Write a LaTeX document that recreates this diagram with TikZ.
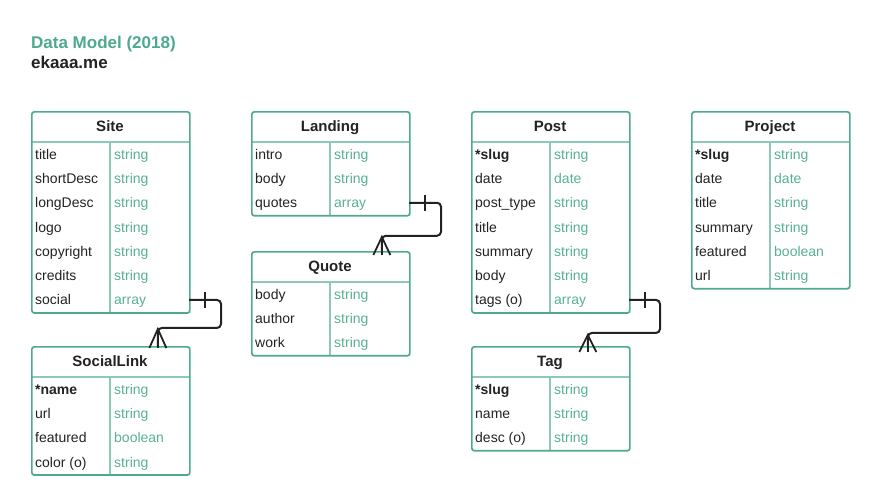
\documentclass[tikz,border=0pt]{standalone}
\usepackage{fontspec}
\setmainfont{Liberation Sans}
\usetikzlibrary{calc}
\definecolor{teal1}{HTML}{4DAA8F}
\definecolor{teallt}{HTML}{8CCAB7}
\definecolor{typec}{HTML}{58B096}
\definecolor{ink}{HTML}{222222}
\tikzset{
  tblbox/.style={draw=teal1, line width=1.7pt, rounded corners=2.5pt, minimum width=158pt, inner sep=0pt},
  tblhead/.style={font=\fontsize{15}{17}\selectfont\bfseries, text=ink, inner sep=0pt, anchor=base},
  keytext/.style={font=\fontsize{14}{16}\selectfont, text=ink, anchor=base west, inner sep=0pt},
  typetext/.style={font=\fontsize{14}{16}\selectfont, text=typec, anchor=base west, inner sep=0pt},
  sepline/.style={draw=teallt, line width=1.2pt},
  divline/.style={draw=teallt, line width=1.4pt},
  rel/.style={draw=ink, line width=2pt, rounded corners=4pt},
  relmark/.style={draw=ink, line width=1.8pt},
  titletext/.style={font=\fontsize{17}{20}\selectfont\bfseries, anchor=base west, inner sep=0pt}
}
\newcommand\ertable[6]{%
  \pgfmathsetmacro\ertH{31+24.3*#5}%
  \draw[divline] (#2+79,#3+31) -- (#2+79,#3+\ertH);
  \draw[sepline] (#2,#3+31) -- (#2+158,#3+31);
  \node[tblbox, minimum height=\ertH pt, anchor=north west] (#1) at (#2,#3) {};
  \node[tblhead] (#1-h) at (#2+79,#3+20.5) {#4};
  \foreach [count=\i] \k/\t in {#6} {
    \pgfmathsetmacro\ry{#3+31+24.3*\i-12.15}
    \node[keytext] (#1-k\i) at (#2+4,\ry+5) {\k};
    \node[typetext] (#1-t\i) at (#2+83,\ry+5) {\t};
    \coordinate (#1-r\i) at (#2+158,\ry);
  }
}
\begin{document}
\begin{tikzpicture}[x=1pt,y=-1pt]
\useasboundingbox (0,0) rectangle (880,501);
\node[titletext, text=teal1] (title) at (31,48) {Data Model (2018)};
\node[titletext, text=ink] (sub) at (31,68) {ekaaa.me};

\ertable{site}{31}{111}{Site}{7}{title/string,shortDesc/string,longDesc/string,logo/string,copyright/string,credits/string,social/array}
\ertable{landing}{251}{111}{Landing}{3}{intro/string,body/string,quotes/array}
\ertable{post}{471}{111}{Post}{7}{\textbf{*slug}/string,date/date,post\_type/string,title/string,summary/string,body/string,tags (o)/array}
\ertable{project}{691}{111}{Project}{6}{\textbf{*slug}/string,date/date,title/string,summary/string,featured/boolean,url/string}
\ertable{quote}{251}{251}{Quote}{3}{body/string,author/string,work/string}
\ertable{sociallink}{31}{346}{SocialLink}{4}{\textbf{*name}/string,url/string,featured/boolean,color (o)/string}
\ertable{tag}{471}{346}{Tag}{3}{\textbf{*slug}/string,name/string,desc (o)/string}

% Site -> SocialLink
\coordinate (f1) at ([xshift=47pt]sociallink.north);
\draw[rel] (site-r7) -- ++(32,0) -- ++(0,28) -| (f1);
\draw[relmark] ([xshift=16pt,yshift=8pt]site-r7) -- ([xshift=16pt,yshift=-8pt]site-r7);
\draw[relmark] ([xshift=-8.5pt,yshift=-2pt]f1) -- ([yshift=17pt]f1) -- ([xshift=8.5pt,yshift=-2pt]f1);
\draw[relmark] ([yshift=17pt]f1) -- ([yshift=-2pt]f1);

% Landing -> Quote
\coordinate (f2) at ([xshift=51pt]quote.north);
\draw[rel] (landing-r3) -- ++(32,0) -- ++(0,33) -| (f2);
\draw[relmark] ([xshift=16pt,yshift=8pt]landing-r3) -- ([xshift=16pt,yshift=-8pt]landing-r3);
\draw[relmark] ([xshift=-8.5pt,yshift=-4pt]f2) -- ([yshift=14pt]f2) -- ([xshift=8.5pt,yshift=-4pt]f2);
\draw[relmark] ([yshift=14pt]f2) -- ([yshift=-4pt]f2);

% Post -> Tag
\coordinate (f3) at ([xshift=37pt]tag.north);
\draw[rel] (post-r7) -- ++(31,0) -- ++(0,33) -| (f3);
\draw[relmark] ([xshift=16pt,yshift=8pt]post-r7) -- ([xshift=16pt,yshift=-8pt]post-r7);
\draw[relmark] ([xshift=-8.5pt,yshift=-6pt]f3) -- ([yshift=11pt]f3) -- ([xshift=8.5pt,yshift=-6pt]f3);
\draw[relmark] ([yshift=11pt]f3) -- ([yshift=-6pt]f3);
\end{tikzpicture}
\end{document}
